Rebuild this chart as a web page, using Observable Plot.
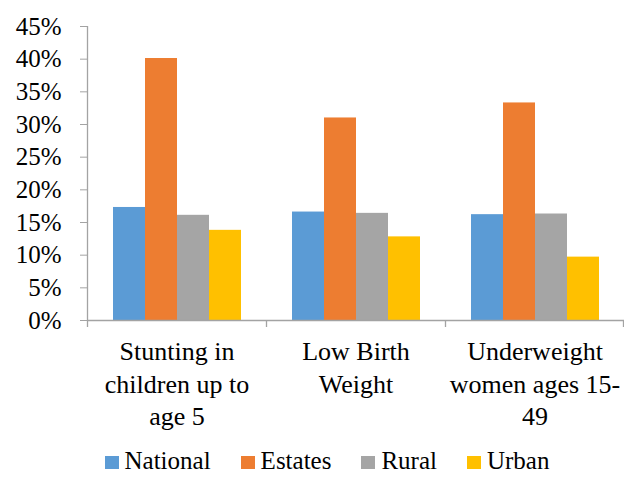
<!DOCTYPE html>
<html>
<head>
<meta charset="utf-8">
<script src="https://cdn.jsdelivr.net/npm/d3@7"></script>
<script src="https://cdn.jsdelivr.net/npm/@observablehq/plot@0.6"></script>
<style>
  html, body { margin: 0; padding: 0; background: #fff; }
  #chart { width: 624px; height: 477px; overflow: hidden; font-family: "Liberation Serif", Tinos, "Times New Roman", "DejaVu Serif", serif; }
  #chart svg, #chart svg text { font-family: "Liberation Serif", Tinos, "Times New Roman", "DejaVu Serif", serif !important; }
  #legend { display: flex; justify-content: center; align-items: center; padding-left: 30px; height: 33px; line-height: 28px; font-size: 25px; color: #000; gap: 30px; white-space: nowrap; }
  #legend .sw { display: inline-block; width: 14px; height: 13px; margin-right: 6px; vertical-align: baseline; }
</style>
</head>
<body>
<div id="chart"></div>
<script>
const categories = ["Stunting in\nchildren up to\nage 5", "Low Birth\nWeight", "Underweight\nwomen ages 15-\n49"];
const series = ["National", "Estates", "Rural", "Urban"];
const national = [0.173, 0.166, 0.162];
const estates = [0.401, 0.310, 0.333];
const rural = [0.161, 0.164, 0.163];
const urban = [0.138, 0.128, 0.097];
const colors = ["#5B9BD5", "#ED7D31", "#A5A5A5", "#FFC000"];
const yTicks = [0, 0.05, 0.10, 0.15, 0.20, 0.25, 0.30, 0.35, 0.40, 0.45];

const seriesValues = [national, estates, rural, urban];
const data = categories.flatMap((c, i) => series.map((s, j) => ({category: c, series: s, value: seriesValues[j][i]})));

const axisGray = "#a3a3a3";
const serif = "'Liberation Serif', Tinos, 'Times New Roman', 'DejaVu Serif', serif";

const plot = Plot.plot({
  width: 624,
  height: 444,
  marginLeft: 87,
  marginRight: 0,
  marginTop: 26,
  marginBottom: 124,
  style: {fontFamily: serif, fontSize: "25px", color: "#000", background: "#fff", overflow: "visible"},
  fx: {domain: categories, padding: 0, label: null},
  x: {domain: series, paddingInner: 0, paddingOuter: 0.75, axis: null},
  y: {domain: [0, 0.45]},
  color: {domain: series, range: colors},
  marks: [
    Plot.barY(data, {fx: "category", x: "series", y: "value", fill: "series"}),
    Plot.ruleY([0], {stroke: axisGray, strokeWidth: 1.3}),
    Plot.axisY(yTicks, {tickSize: 7, tickPadding: 19, tickFormat: d => Math.round(d * 100) + "%", stroke: axisGray, fill: "#000", fontSize: 25, label: null}),
    Plot.axisFx({anchor: "bottom", tickSize: 0, tickPadding: 17, fontSize: 26, lineHeight: 1.24, fill: "#000", label: null})
  ]
});

document.getElementById("chart").appendChild(plot);

// axis line and category boundary ticks drawn from the plot's own scales
const fxS = plot.scale("fx");
const yS = plot.scale("y");
const yApply = yS.apply ? yS.apply : d3.scaleLinear(yS.domain, yS.range);
const n = fxS.domain.length;
const x0 = fxS.range[0], x1 = fxS.range[1];
const step = (x1 - x0) / n;
const yZero = yApply(0), yTop = yApply(yTicks[yTicks.length - 1]);
const svg = d3.select(plot);
const g = svg.append("g").attr("stroke", axisGray).attr("stroke-width", 1.3);
g.append("line").attr("x1", x0 + 0.5).attr("x2", x0 + 0.5).attr("y1", yTop).attr("y2", yZero);
d3.range(n + 1).forEach(i => {
  const xx = Math.min(x0 + i * step, x1 - 1) + 0.5;
  g.append("line").attr("x1", xx).attr("x2", xx).attr("y1", yZero).attr("y2", yZero + 7);
});

// legend
const legend = document.createElement("div");
legend.id = "legend";
series.forEach((s, j) => {
  const item = document.createElement("span");
  const sw = document.createElement("span");
  sw.className = "sw";
  sw.style.background = colors[j];
  item.appendChild(sw);
  item.appendChild(document.createTextNode(s));
  legend.appendChild(item);
});
document.getElementById("chart").appendChild(legend);
</script>
</body>
</html>
